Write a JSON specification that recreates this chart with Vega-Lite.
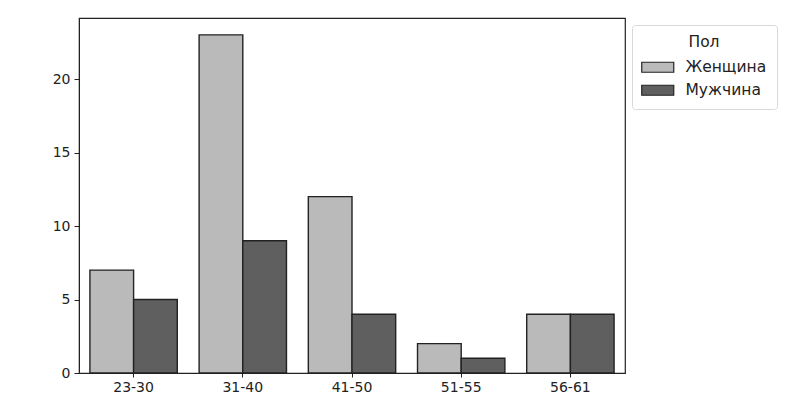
{
  "$schema": "https://vega.github.io/schema/vega-lite/v6.json",
  "width": 546,
  "height": 355,
  "autosize": {"type": "none"},
  "padding": {"left": 79, "top": 18, "right": 173, "bottom": 42},
  "background": "white",
  "config": {
    "font": "DejaVu Sans",
    "view": {"stroke": "#222", "strokeWidth": 1.2},
    "axis": {"domainColor": "#222", "tickColor": "#222", "labelColor": "#222", "labelFontSize": 14, "grid": false, "title": null}
  },
  "data": {
    "values": [
      {"age": "23-30", "sex": "Женщина", "count": 7},
      {"age": "23-30", "sex": "Мужчина", "count": 5},
      {"age": "31-40", "sex": "Женщина", "count": 23},
      {"age": "31-40", "sex": "Мужчина", "count": 9},
      {"age": "41-50", "sex": "Женщина", "count": 12},
      {"age": "41-50", "sex": "Мужчина", "count": 4},
      {"age": "51-55", "sex": "Женщина", "count": 2},
      {"age": "51-55", "sex": "Мужчина", "count": 1},
      {"age": "56-61", "sex": "Женщина", "count": 4},
      {"age": "56-61", "sex": "Мужчина", "count": 4}
    ]
  },
  "mark": {"type": "bar", "stroke": "#222", "strokeWidth": 1.4},
  "encoding": {
    "x": {
      "field": "age", "type": "nominal", "sort": null,
      "scale": {"paddingInner": 0.2, "paddingOuter": 0.1},
      "axis": {"labelAngle": 0, "tickSize": 4, "labelPadding": 3}
    },
    "xOffset": {"field": "sex", "type": "nominal", "scale": {"paddingInner": 0, "paddingOuter": 0}},
    "y": {
      "field": "count", "type": "quantitative",
      "scale": {"domain": [0, 24.15], "nice": false},
      "axis": {"values": [0, 5, 10, 15, 20], "tickSize": 5, "labelPadding": 4}
    },
    "fill": {
      "field": "sex", "type": "nominal", "title": "Пол",
      "scale": {"domain": ["Женщина", "Мужчина"], "range": ["#bababa", "#5f5f5f"]},
      "legend": {
        "orient": "none", "legendX": 553, "legendY": 7,
        "symbolType": "M-2.667,-0.833H2.667V0.833H-2.667Z", "symbolSize": 144,
        "symbolOffset": 8,
        "symbolStrokeColor": "#222", "symbolStrokeWidth": 1.2, "symbolOpacity": 1,
        "strokeColor": "#d8d8d8", "fillColor": "white", "cornerRadius": 3, "padding": 10,
        "titleFontSize": 15.5, "titleFontWeight": "normal", "titleColor": "#222", "titleAnchor": "middle", "titlePadding": 9,
        "labelFontSize": 15.5, "labelColor": "#222", "labelOffset": 20, "rowPadding": 6
      }
    }
  }
}
